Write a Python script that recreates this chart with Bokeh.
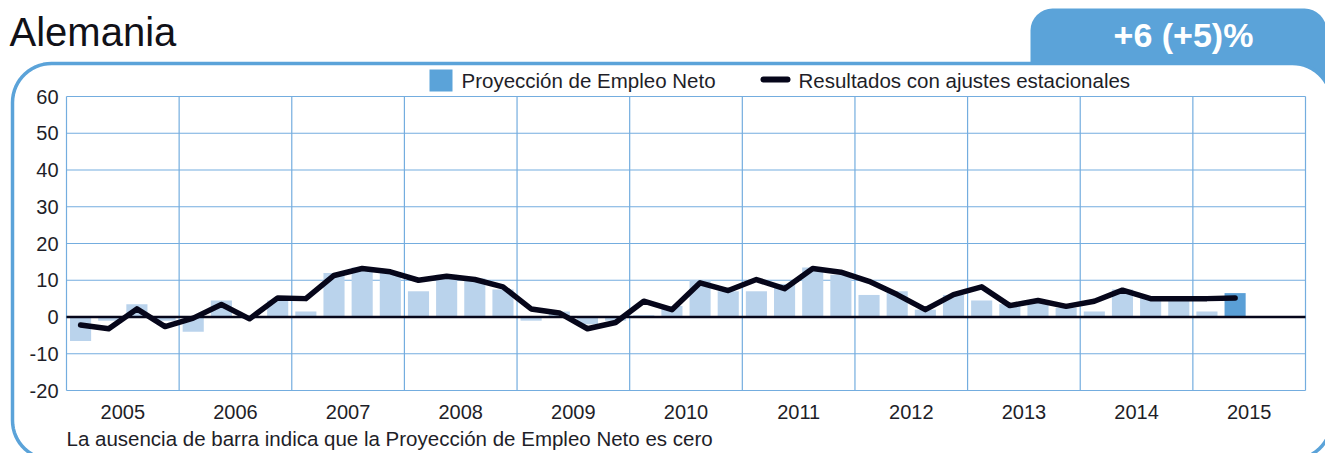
import numpy as np
from bokeh.plotting import figure
from bokeh.models import BoxAnnotation, Label, ColumnDataSource
from bokeh.core.properties import value
from bokeh.embed import file_html
from bokeh.resources import INLINE

# ---------------- data ----------------
years = ["2005", "2006", "2007", "2008", "2009", "2010", "2011", "2012", "2013", "2014", "2015"]
# quarterly values, 2005 Q1 ... 2015 Q2
bar_values = [-6.5, -1, 3.5, -1,
              -4, 4.5, 0, 4.5,
              1.5, 12, 13.5, 12,
              7, 11.5, 10.5, 7.5,
              -1, 1.5, -2, -1,
              0.5, 3, 10, 7,
              7, 9, 13.5, 11.5,
              6, 7, 2, 6,
              4.5, 3.5, 4.5, 2.5,
              1.5, 7.5, 5.5, 5.5,
              1.5, 6.5]
line_values = [-2.2, -3.2, 2.2, -2.6,
               -0.3, 3.4, -0.5, 5.2,
               5.0, 11.3, 13.2, 12.3,
               10.0, 11.1, 10.2, 8.2,
               2.2, 1.1, -3.2, -1.5,
               4.3, 2.0, 9.3, 7.2,
               10.2, 7.7, 13.2, 12.2,
               9.7, 6.1, 2.0, 6.1,
               8.2, 3.1, 4.5, 2.9,
               4.3, 7.3, 5.0, 5.0,
               5.0, 5.2]
y_ticks = [-20, -10, 0, 10, 20, 30, 40, 50, 60]
y_tick_labels = ["-20", "-10", "0", "10", "20", "30", "40", "50", "60"]
title_text = "Alemania"
badge_text = "+6 (+5)%"
legend_bar = "Proyección de Empleo Neto"
legend_line = "Resultados con ajustes estacionales"
footnote = "La ausencia de barra indica que la Proyección de Empleo Neto es cero"

# ---------------- style ----------------
FONT = "Liberation Sans"
TXT = "#1e1e28"
BLUE = "#5ba3d9"
LIGHT = "#bad3ec"
DARK = "#5a9fd6"
GRID = "#74addf"
INK = "#06061a"

W, H = 1325, 453
PL, PR, PT, PB = 66, 1305, 96, 390     # plot area in canvas pixels
nq = 4 * len(years)                    # quarters on the axis
kx = (PR - PL) / nq
ky = (PB - PT) / (y_ticks[-1] - y_ticks[0])

p = figure(width=W, height=H,
           x_range=(0 - PL / kx, nq + (W - PR) / kx),
           y_range=(y_ticks[0] - (H - PB) / ky, y_ticks[-1] + PT / ky),
           output_backend="svg", toolbar_location=None, title=None,
           x_axis_type=None, y_axis_type=None,
           min_border=0, outline_line_color=None,
           background_fill_color="white", border_fill_color="white")
p.grid.visible = False


def sy(py):  # canvas y (down) -> screen y (up)
    return H - py


def box(l, r, t, b, **kw):
    return BoxAnnotation(left=l, right=r, top=sy(t), bottom=sy(b),
                         left_units="screen", right_units="screen",
                         top_units="screen", bottom_units="screen", **kw)


def to_data(cx, cy):  # canvas pixels -> data coordinates (decoration only)
    return (np.asarray(cx) - PL) / kx, y_ticks[-1] - (np.asarray(cy) - PT) / ky


def rounded_rect(L, R, T, B, r, n=16):
    pts_x, pts_y = [], []
    for (cx, cy, a0) in [(R - r, T + r, -90), (R - r, B - r, 0), (L + r, B - r, 90), (L + r, T + r, 180)]:
        a = np.radians(np.linspace(a0, a0 + 90, n))
        pts_x.extend(cx + r * np.cos(a))
        pts_y.extend(cy + r * np.sin(a))
    return to_data(pts_x, pts_y)


# decorative panel: tab + rounded white box
p.add_layout(box(1030, 1326, 8, 130, fill_color=BLUE, fill_alpha=1, line_color=None,
                 border_radius=22, level="image"))
px_, py_ = rounded_rect(12, 1331, 63, 459, 39)
p.patch(px_, py_, fill_color="white", line_color=BLUE, line_width=3.5, level="underlay")

# grid lines (year boundaries and every 10 points)
x_edges = list(range(0, nq + 1, 4))
p.segment(x0=x_edges, x1=x_edges, y0=y_ticks[0], y1=y_ticks[-1], line_color=GRID, line_width=1.2)
p.segment(x0=0, x1=nq, y0=y_ticks, y1=y_ticks, line_color=GRID, line_width=1.2)

# tick labels (this renderer places the given y at the glyphs' visual centre)
p.text(x=0, y=y_ticks, text=y_tick_labels, x_offset=-8, y_offset=0,
       text_align="right", text_baseline="alphabetic",
       text_font=value(FONT), text_font_size="20px", text_color=TXT)
p.text(x=[4 * i + 2 for i in range(len(years))], y=y_ticks[0], text=years, y_offset=21.5,
       text_align="center", text_baseline="alphabetic",
       text_font=value(FONT), text_font_size="20px", text_color=TXT)

# bars, zero line, line
n = len(bar_values)
xs = [i + 0.5 for i in range(n)]
colors = [LIGHT] * (n - 1) + [DARK]
bars = ColumnDataSource(dict(x=xs, top=bar_values, color=colors))
line = ColumnDataSource(dict(x=xs, y=line_values))
p.vbar(x="x", top="top", bottom=0, width=0.75, fill_color="color", line_color=None, source=bars)
p.segment(x0=0, x1=nq, y0=0, y1=0, line_color=INK, line_width=2.5)
p.line(x="x", y="y", source=line, line_color=INK, line_width=5.5,
       line_join="round", line_cap="round")

# legend (manual)
p.add_layout(box(429, 452, 69, 91, fill_color=BLUE, fill_alpha=1, line_color=None))
p.add_layout(box(760, 790, 76, 82, fill_color=INK, fill_alpha=1, line_color=None, border_radius=3))


def label(text, x, y, size, align="left", color=TXT, style="normal"):
    p.add_layout(Label(x=x, y=sy(y), x_units="screen", y_units="screen", text=text,
                       text_font=FONT, text_font_size=size, text_color=color,
                       text_align=align, text_baseline="alphabetic", text_font_style=style))


label(legend_bar, 461, 79.5, "20.5px")
label(legend_line, 798, 79.5, "20.5px")
label(title_text, 9, 31.5, "40px", color="#111118")
label(badge_text, 1183, 34, "34px", align="center", color="white", style="bold")
label(footnote, 66, 438, "20.5px")

open("out.html", "w").write(file_html(p, INLINE))
